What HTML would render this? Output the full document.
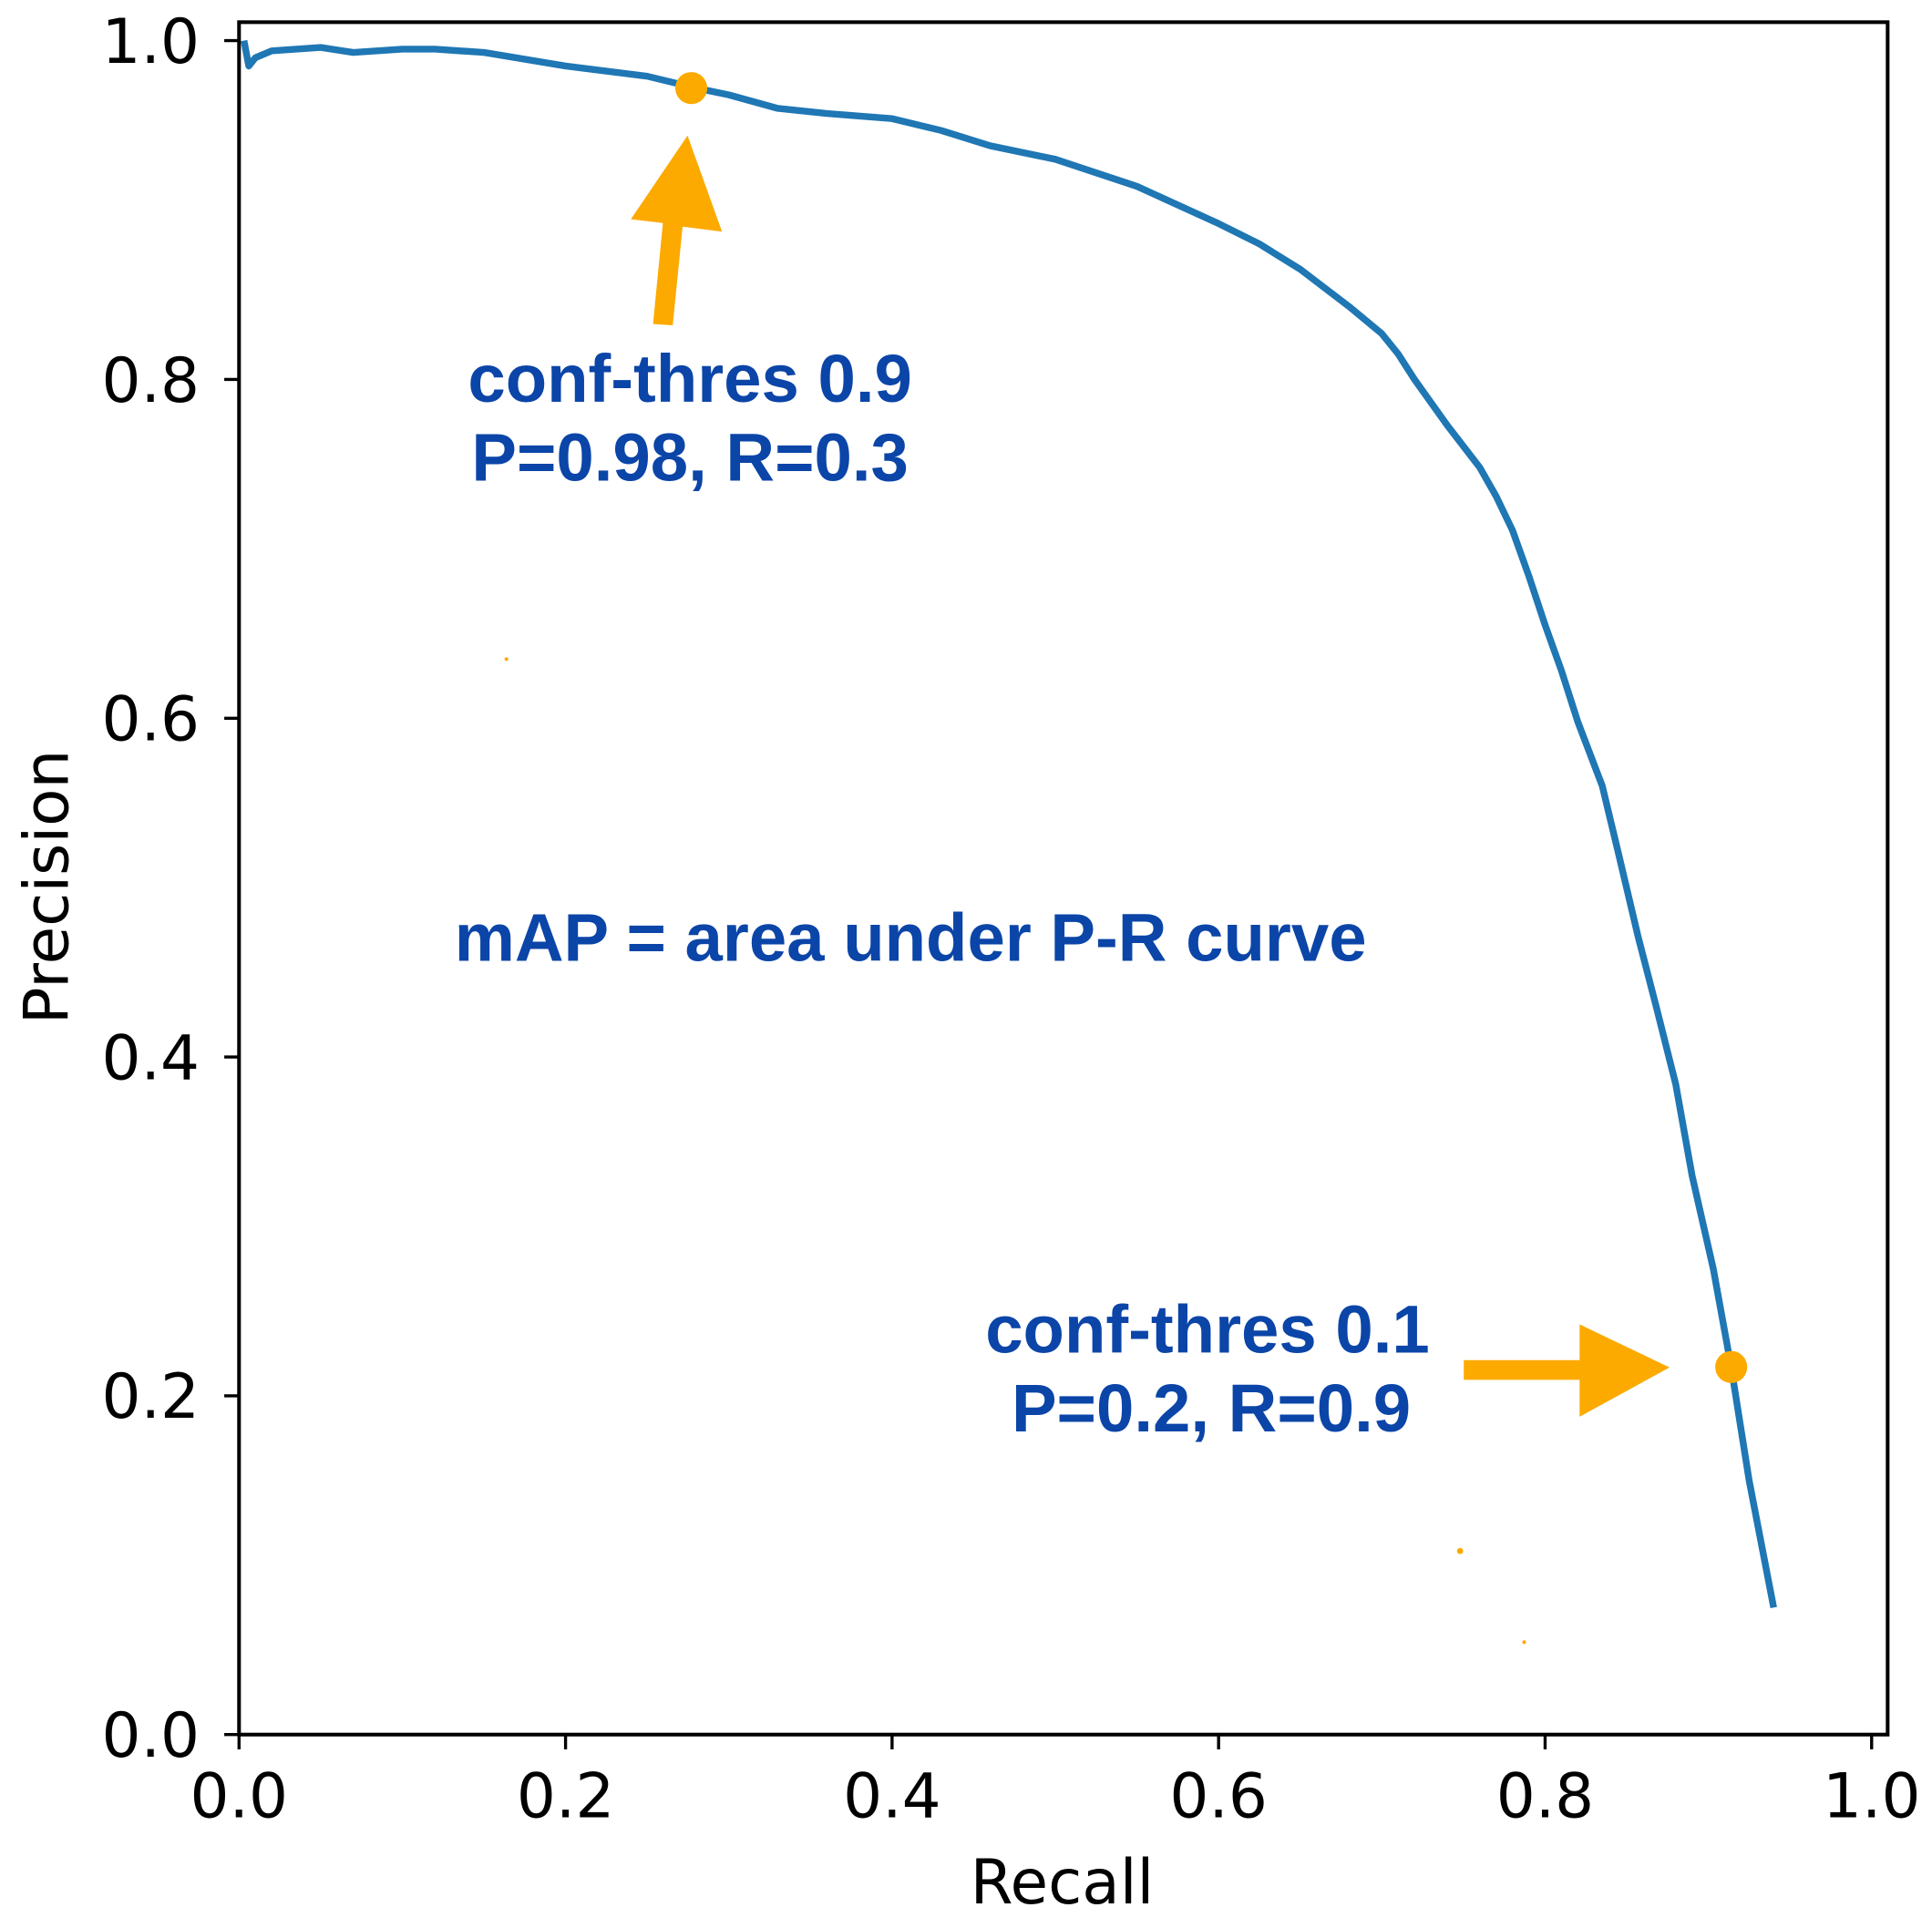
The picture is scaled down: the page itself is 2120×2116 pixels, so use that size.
<!DOCTYPE html>
<html><head><meta charset="utf-8"><style>html,body{margin:0;padding:0;background:#fff}svg{display:block}</style></head>
<body>
<svg id="chart" width="2120" height="2116" viewBox="0 0 1568 1565" preserveAspectRatio="none" xmlns="http://www.w3.org/2000/svg">
<rect width="1568" height="1565" fill="#fff"/>
<g id="ticks"></g>
<path id="curve" fill="none" stroke="#1f77b4" stroke-width="5.5" stroke-linejoin="round"/>
<rect x="194" y="18" width="1338" height="1390" fill="none" stroke="#000" stroke-width="3"/>
<g id="marks">
  <polygon fill="#fcaa00" points="530,263 546,264 554,184 586,188 558,110 512,178 538,181"/>
  <polygon fill="#fcaa00" points="1188,1104 1282,1104 1282,1075 1355,1110 1282,1150 1282,1120 1188,1120"/>
  <text x="560" y="326" text-anchor="middle" font-family="Liberation Sans, sans-serif" font-weight="bold" font-size="55" fill="#0b45a8">conf-thres 0.9</text>
  <text x="560" y="390" text-anchor="middle" font-family="Liberation Sans, sans-serif" font-weight="bold" font-size="55" fill="#0b45a8">P=0.98, R=0.3</text>
  <text x="739" y="780" text-anchor="middle" font-family="Liberation Sans, sans-serif" font-weight="bold" font-size="55" fill="#0b45a8">mAP = area under P-R curve</text>
  <text x="980" y="1098" text-anchor="middle" font-family="Liberation Sans, sans-serif" font-weight="bold" font-size="55" fill="#0b45a8">conf-thres 0.1</text>
  <text x="983" y="1162" text-anchor="middle" font-family="Liberation Sans, sans-serif" font-weight="bold" font-size="55" fill="#0b45a8">P=0.2, R=0.9</text>
  <circle cx="411" cy="535" r="1.5" fill="#fcaa00"/>
  <circle cx="1185" cy="1259" r="2.5" fill="#fcaa00"/>
  <circle cx="1237" cy="1333" r="1.5" fill="#fcaa00"/>
</g>
<g id="points"></g>
<text x="862" y="1545" text-anchor="middle" font-family="DejaVu Sans, sans-serif" font-size="50">Recall</text>
<text transform="translate(55,720) rotate(-90)" text-anchor="middle" font-family="DejaVu Sans, sans-serif" font-size="50">Precision</text>
</svg>
<script>
const recall = [0.003,0.006,0.01,0.02,0.05,0.07,0.1,0.12,0.15,0.2,0.25,0.28,0.3,0.33,0.36,0.4,0.43,0.46,0.5,0.55,0.6,0.625,0.65,0.68,0.7,0.71,0.72,0.74,0.76,0.77,0.78,0.79,0.8,0.81,0.82,0.835,0.845,0.857,0.868,0.88,0.89,0.903,0.914,0.925,0.94];
const precision = [1.0,0.985,0.99,0.994,0.996,0.993,0.995,0.995,0.993,0.985,0.979,0.972,0.968,0.96,0.957,0.954,0.947,0.938,0.93,0.914,0.892,0.88,0.865,0.843,0.827,0.815,0.8,0.773,0.748,0.731,0.711,0.684,0.655,0.628,0.598,0.56,0.52,0.471,0.43,0.384,0.33,0.275,0.217,0.15,0.075];
const pointR = [0.277,0.914];
const pointP = [0.972,0.217];
const tickVals = [0,0.2,0.4,0.6,0.8,1.0];
const tickLabels = ["0.0","0.2","0.4","0.6","0.8","1.0"];
const NS="http://www.w3.org/2000/svg";
function xs(v){return 194+v*1325;}
function ys(v){return 1408-v*1375;}
document.getElementById('curve').setAttribute('d', recall.map((r,i)=>(i?'L':'M')+xs(r).toFixed(1)+','+ys(precision[i]).toFixed(1)).join(' '));
const pg=document.getElementById('points');
pointR.forEach((r,i)=>{const c=document.createElementNS(NS,'circle');


c.setAttribute('cx',xs(r));c.setAttribute('cy',ys(pointP[i]));c.setAttribute('r',13);c.setAttribute('fill','#fcaa00');pg.appendChild(c);});
const tg=document.getElementById('ticks');
tickVals.forEach((v,i)=>{
 let l=document.createElementNS(NS,'line');
 
 
 l.setAttribute('x1',xs(v));l.setAttribute('x2',xs(v));l.setAttribute('y1',1408);l.setAttribute('y2',1420);l.setAttribute('stroke','#000');l.setAttribute('stroke-width',2.5);tg.appendChild(l);
 let t=document.createElementNS(NS,'text');
 
 
 t.setAttribute('x',xs(v));t.setAttribute('y',1475);t.setAttribute('text-anchor','middle');t.setAttribute('font-family','DejaVu Sans, sans-serif');t.setAttribute('font-size','50');t.textContent=tickLabels[i];tg.appendChild(t);
 let l2=document.createElementNS(NS,'line');
 
 
 l2.setAttribute('x1',182);l2.setAttribute('x2',194);l2.setAttribute('y1',ys(v));l2.setAttribute('y2',ys(v));l2.setAttribute('stroke','#000');l2.setAttribute('stroke-width',2.5);tg.appendChild(l2);
 let t2=document.createElementNS(NS,'text');
 
 
 t2.setAttribute('x',162);t2.setAttribute('y',ys(v)+18);t2.setAttribute('text-anchor','end');t2.setAttribute('font-family','DejaVu Sans, sans-serif');t2.setAttribute('font-size','50');t2.textContent=tickLabels[i];tg.appendChild(t2);
});
</script>
</body></html>
